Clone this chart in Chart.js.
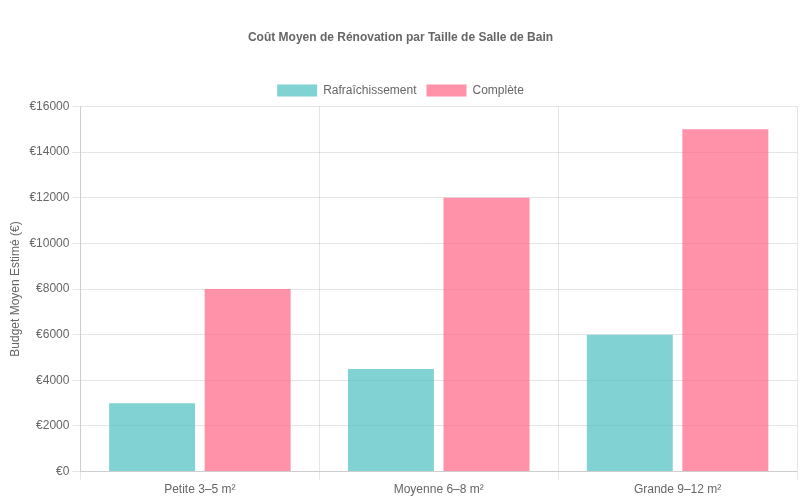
<!DOCTYPE html>
<html><head><meta charset="utf-8">
<script src="https://cdn.jsdelivr.net/npm/chart.js@4"></script>
<style>html,body{margin:0;padding:0;background:#fff}#w{width:800px;height:500px}</style>
</head><body><div id="w"><canvas id="c"></canvas></div>
<script>
const categories = ["Petite 3–5 m²", "Moyenne 6–8 m²", "Grande 9–12 m²"];
const refresh = [3000, 4500, 6000];
const complete = [8000, 12000, 15000];
Chart.defaults.font.family = "'Liberation Sans', Arial, sans-serif";
Chart.defaults.color = "#666";
new Chart(document.getElementById('c'), {
  type: 'bar',
  data: {
    labels: categories,
    datasets: [
      {label: 'Rafraîchissement', data: refresh, backgroundColor: 'rgba(75,192,192,0.7)'},
      {label: 'Complète', data: complete, backgroundColor: 'rgba(255,99,132,0.7)'}
    ]
  },
  options: {
    responsive: true, maintainAspectRatio: false, animation: false,
    layout: {padding: {left: 4, right: 3}},
    plugins: {
      title: {display: true, text: 'Coût Moyen de Rénovation par Taille de Salle de Bain',
        font: {size: 12, weight: 'bold'}, padding: {top: 30, bottom: 30}},
      legend: {labels: {font: {size: 12}}}
    },
    scales: {
      y: {beginAtZero: true, max: 16000, ticks: {stepSize: 2000, callback: v => '€' + v},
          title: {display: true, text: 'Budget Moyen Estimé (€)'}},
      x: {}
    }
  }
});
</script></body></html>
